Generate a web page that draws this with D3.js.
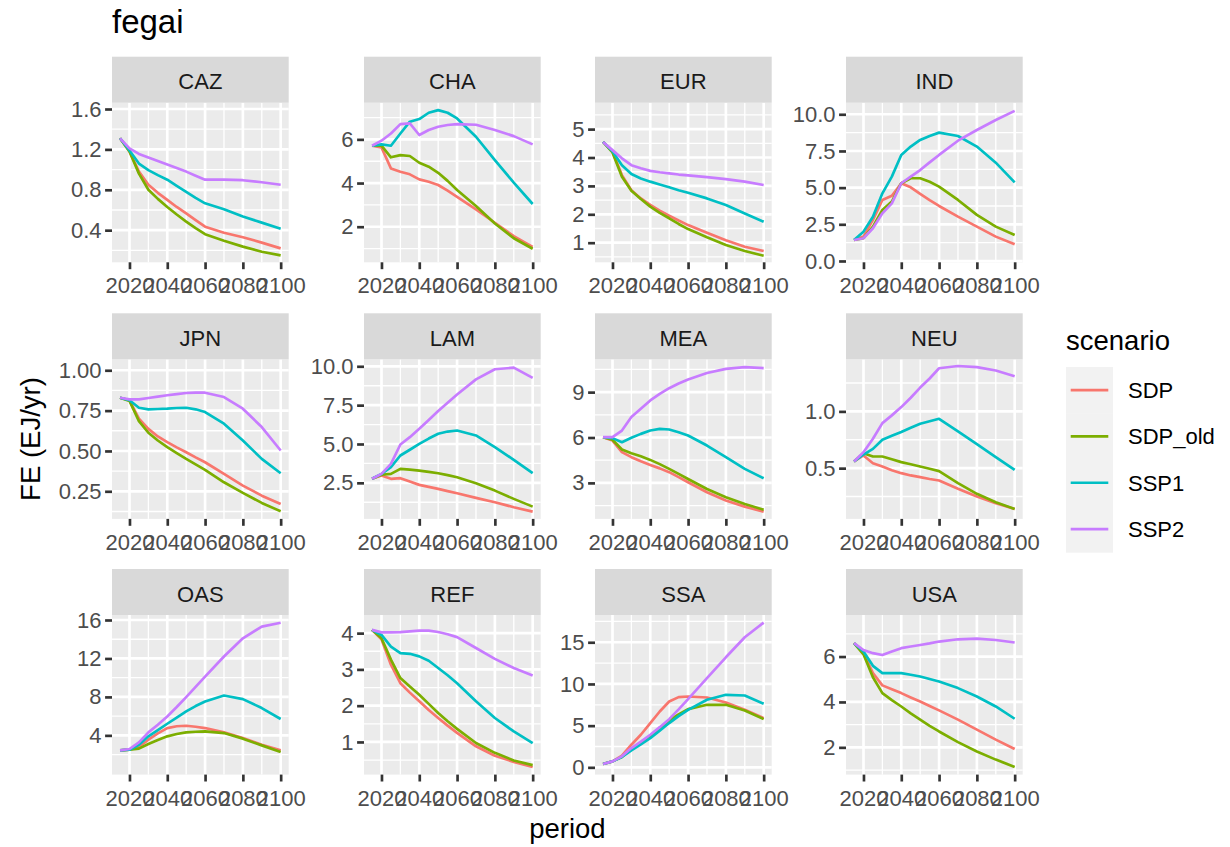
<!DOCTYPE html>
<html>
<head>
<meta charset="utf-8">
<script src="https://cdn.jsdelivr.net/npm/d3@7"></script>
<style>
  body { margin: 0; background: #ffffff; }
  text { font-family: "Liberation Sans", Arial, sans-serif; }
</style>
</head>
<body>
<script>
// ---------------- data ----------------
const years = [2015, 2020, 2025, 2030, 2035, 2040, 2045, 2050, 2055, 2060, 2070, 2080, 2090, 2100];
const regions = ["CAZ", "CHA", "EUR", "IND", "JPN", "LAM", "MEA", "NEU", "OAS", "REF", "SSA", "USA"];
const scenarios = ["SDP", "SDP_old", "SSP1", "SSP2"];
const scenarioColors = ["#F8766D", "#7CAE00", "#00BFC4", "#C77CFF"];
const xTicks = [2020, 2040, 2060, 2080, 2100];

// series per region, order: SDP, SDP_old, SSP1, SSP2
const dataCAZ = [
  [1.31, 1.18, 0.98, 0.85, 0.77, 0.70, 0.63, 0.567, 0.50, 0.435, 0.375, 0.33, 0.277, 0.22],
  [1.31, 1.18, 0.96, 0.80, 0.71, 0.63, 0.555, 0.485, 0.42, 0.36, 0.296, 0.237, 0.187, 0.15],
  [1.31, 1.19, 1.06, 0.995, 0.945, 0.90, 0.84, 0.78, 0.72, 0.666, 0.607, 0.535, 0.475, 0.415],
  [1.31, 1.21, 1.155, 1.12, 1.085, 1.05, 1.015, 0.98, 0.94, 0.90, 0.90, 0.895, 0.875, 0.85]
];
const dataCHA = [
  [5.71, 5.63, 4.67, 4.52, 4.40, 4.17, 4.06, 3.91, 3.65, 3.37, 2.79, 2.18, 1.57, 1.08],
  [5.71, 5.71, 5.18, 5.28, 5.24, 4.93, 4.75, 4.47, 4.10, 3.68, 2.95, 2.15, 1.47, 0.99],
  [5.71, 5.77, 5.71, 6.27, 6.81, 6.93, 7.22, 7.34, 7.22, 6.96, 6.12, 5.05, 4.02, 3.04],
  [5.71, 5.94, 6.27, 6.70, 6.73, 6.20, 6.43, 6.58, 6.66, 6.70, 6.67, 6.43, 6.15, 5.77]
];
const dataEUR = [
  [4.55, 4.20, 3.38, 2.85, 2.56, 2.33, 2.13, 1.95, 1.78, 1.62, 1.35, 1.09, 0.86, 0.71],
  [4.55, 4.18, 3.32, 2.83, 2.54, 2.27, 2.05, 1.86, 1.66, 1.48, 1.19, 0.92, 0.71, 0.54],
  [4.55, 4.22, 3.73, 3.42, 3.26, 3.15, 3.05, 2.95, 2.85, 2.76, 2.56, 2.33, 2.03, 1.74],
  [4.55, 4.26, 3.97, 3.73, 3.62, 3.53, 3.48, 3.44, 3.40, 3.37, 3.31, 3.24, 3.15, 3.03]
];
const dataIND = [
  [1.43, 1.66, 2.80, 4.16, 4.45, 5.30, 5.02, 4.57, 4.15, 3.75, 3.02, 2.34, 1.66, 1.14],
  [1.43, 1.55, 2.34, 3.48, 4.05, 5.30, 5.64, 5.64, 5.40, 5.07, 4.16, 3.14, 2.34, 1.77],
  [1.43, 2.00, 3.02, 4.61, 5.75, 7.23, 7.80, 8.25, 8.52, 8.75, 8.52, 7.80, 6.70, 5.36],
  [1.43, 1.55, 2.23, 3.25, 3.93, 5.30, 5.75, 6.20, 6.72, 7.23, 8.20, 8.93, 9.61, 10.23]
];
const dataJPN = [
  [0.83, 0.814, 0.70, 0.637, 0.59, 0.555, 0.522, 0.492, 0.46, 0.43, 0.358, 0.285, 0.223, 0.171],
  [0.83, 0.81, 0.685, 0.613, 0.565, 0.524, 0.487, 0.451, 0.417, 0.383, 0.306, 0.24, 0.178, 0.126],
  [0.83, 0.814, 0.768, 0.758, 0.76, 0.762, 0.766, 0.768, 0.758, 0.741, 0.669, 0.565, 0.451, 0.362],
  [0.83, 0.82, 0.82, 0.828, 0.837, 0.845, 0.852, 0.859, 0.861, 0.861, 0.834, 0.762, 0.648, 0.503]
];
const dataLAM = [
  [2.76, 2.97, 2.76, 2.80, 2.58, 2.37, 2.24, 2.11, 1.97, 1.83, 1.53, 1.25, 0.93, 0.65],
  [2.76, 3.02, 3.08, 3.40, 3.35, 3.29, 3.21, 3.12, 3.00, 2.86, 2.48, 2.00, 1.47, 0.97],
  [2.76, 3.08, 3.51, 4.26, 4.63, 5.01, 5.35, 5.66, 5.80, 5.87, 5.55, 4.80, 3.98, 3.12],
  [2.76, 3.08, 3.72, 4.97, 5.44, 5.98, 6.55, 7.12, 7.65, 8.19, 9.16, 9.81, 9.91, 9.25]
];
const dataMEA = [
  [6.02, 5.80, 5.03, 4.70, 4.43, 4.19, 3.96, 3.71, 3.38, 3.04, 2.38, 1.83, 1.43, 1.10],
  [6.02, 5.85, 5.21, 4.96, 4.76, 4.52, 4.24, 3.93, 3.60, 3.26, 2.60, 2.05, 1.61, 1.23],
  [6.02, 5.96, 5.69, 5.98, 6.24, 6.46, 6.57, 6.53, 6.35, 6.13, 5.47, 4.70, 3.93, 3.31],
  [6.02, 6.02, 6.46, 7.35, 7.90, 8.45, 8.89, 9.26, 9.57, 9.84, 10.26, 10.54, 10.65, 10.59]
];
const dataNEU = [
  [0.559, 0.612, 0.544, 0.515, 0.482, 0.456, 0.436, 0.421, 0.405, 0.391, 0.318, 0.25, 0.191, 0.141],
  [0.559, 0.632, 0.603, 0.603, 0.578, 0.553, 0.534, 0.515, 0.495, 0.474, 0.368, 0.274, 0.20, 0.141],
  [0.559, 0.62, 0.67, 0.75, 0.785, 0.818, 0.856, 0.891, 0.913, 0.935, 0.824, 0.712, 0.597, 0.485],
  [0.559, 0.641, 0.759, 0.897, 0.965, 1.038, 1.12, 1.21, 1.29, 1.38, 1.40, 1.39, 1.36, 1.31]
];
const dataOAS = [
  [2.44, 2.51, 2.79, 3.55, 4.20, 4.76, 4.95, 5.00, 4.90, 4.76, 4.31, 3.72, 3.03, 2.44],
  [2.44, 2.51, 2.62, 3.10, 3.52, 3.90, 4.14, 4.31, 4.38, 4.42, 4.24, 3.66, 2.96, 2.27],
  [2.44, 2.51, 3.03, 3.90, 4.55, 5.21, 5.85, 6.49, 7.05, 7.53, 8.15, 7.77, 6.84, 5.70],
  [2.44, 2.58, 3.27, 4.31, 5.10, 5.97, 6.95, 7.98, 9.05, 10.12, 12.2, 14.1, 15.31, 15.72]
];
const dataREF = [
  [4.09, 3.83, 3.13, 2.62, 2.36, 2.12, 1.88, 1.66, 1.45, 1.25, 0.88, 0.62, 0.45, 0.31],
  [4.09, 3.86, 3.27, 2.76, 2.53, 2.30, 2.05, 1.80, 1.57, 1.36, 0.97, 0.70, 0.49, 0.36],
  [4.09, 3.95, 3.63, 3.45, 3.43, 3.36, 3.24, 3.04, 2.84, 2.62, 2.12, 1.66, 1.29, 0.97],
  [4.09, 4.02, 4.02, 4.03, 4.05, 4.07, 4.07, 4.03, 3.97, 3.89, 3.59, 3.29, 3.04, 2.83]
];
const dataSSA = [
  [0.40, 0.72, 1.40, 2.71, 3.91, 5.31, 6.70, 7.90, 8.42, 8.50, 8.38, 7.78, 6.90, 5.90],
  [0.40, 0.72, 1.24, 2.19, 2.95, 3.71, 4.65, 5.62, 6.35, 6.98, 7.50, 7.50, 6.82, 5.78],
  [0.40, 0.72, 1.24, 2.03, 2.75, 3.51, 4.40, 5.31, 6.15, 6.90, 8.10, 8.70, 8.62, 7.62],
  [0.40, 0.72, 1.32, 2.31, 3.08, 3.91, 4.82, 5.78, 6.95, 8.18, 10.69, 13.2, 15.6, 17.35]
];
const dataUSA = [
  [6.59, 6.15, 5.27, 4.73, 4.56, 4.39, 4.20, 4.02, 3.82, 3.63, 3.22, 2.78, 2.34, 1.93],
  [6.59, 6.10, 5.09, 4.39, 4.08, 3.80, 3.50, 3.22, 2.95, 2.70, 2.23, 1.82, 1.46, 1.14],
  [6.59, 6.22, 5.59, 5.27, 5.27, 5.27, 5.20, 5.12, 5.01, 4.90, 4.61, 4.24, 3.80, 3.26],
  [6.59, 6.29, 6.15, 6.07, 6.22, 6.37, 6.44, 6.51, 6.58, 6.66, 6.76, 6.79, 6.73, 6.62]
];
const regionData = [dataCAZ, dataCHA, dataEUR, dataIND, dataJPN, dataLAM, dataMEA, dataNEU, dataOAS, dataREF, dataSSA, dataUSA];

// y axis limits (as displayed) and tick labels per panel
const yLimits = [
  [0.082, 1.6625], [0.37, 7.68], [0.31, 5.93], [-0.09, 10.79],
  [0.079, 1.068], [0.18, 10.45], [0.62, 11.17], [0.053, 1.459],
  [-0.08, 16.52], [0.10, 4.50], [-0.87, 18.27], [0.80, 7.83]
];
const yTickLabels = [
  ["0.4", "0.8", "1.2", "1.6"], ["2", "4", "6"], ["1", "2", "3", "4", "5"], ["0.0", "2.5", "5.0", "7.5", "10.0"],
  ["0.25", "0.50", "0.75", "1.00"], ["2.5", "5.0", "7.5", "10.0"], ["3", "6", "9"], ["0.5", "1.0"],
  ["4", "8", "12", "16"], ["1", "2", "3", "4"], ["0", "5", "10", "15"], ["2", "4", "6"]
];

// ---------------- layout ----------------
const W = 1230, H = 847;
const colLeft = [112, 364, 595, 846];
const rowTop = [56.7, 313.3, 569];
const panelW = 176.7, stripH = 46, panelH = 159.6;
const xLimits = [2010.75, 2104.25];
const tickLen = 6.9;
const lw = 2.67;

const svg = d3.select("body").append("svg")
  .attr("width", W).attr("height", H)
  .attr("viewBox", `0 0 ${W} ${H}`);
svg.append("rect").attr("width", W).attr("height", H).attr("fill", "#ffffff");

const line = d3.line();

regions.forEach((reg, i) => {
  const col = i % 4, row = Math.floor(i / 4);
  const left = colLeft[col];
  const top = rowTop[row] + stripH;
  const bottom = top + panelH;
  const x = d3.scaleLinear().domain(xLimits).range([left, left + panelW]);
  const y = d3.scaleLinear().domain(yLimits[i]).range([bottom, top]);
  const yT = yTickLabels[i].map(Number);
  const step = yT[1] - yT[0];
  const yMinor = [yT[0] - step / 2].concat(yT.map(v => v + step / 2))
    .filter(v => v > yLimits[i][0] && v < yLimits[i][1]);
  const xMinor = [2010, 2030, 2050, 2070, 2090].filter(v => v > xLimits[0] && v < xLimits[1]);

  const g = svg.append("g");
  g.append("rect").attr("x", left).attr("y", top).attr("width", panelW).attr("height", panelH).attr("fill", "#EBEBEB");

  // minor grid
  g.selectAll(null).data(yMinor).enter().append("line")
    .attr("x1", left).attr("x2", left + panelW).attr("y1", d => y(d)).attr("y2", d => y(d))
    .attr("stroke", "#ffffff").attr("stroke-width", lw / 2);
  g.selectAll(null).data(xMinor).enter().append("line")
    .attr("y1", top).attr("y2", bottom).attr("x1", d => x(d)).attr("x2", d => x(d))
    .attr("stroke", "#ffffff").attr("stroke-width", lw / 2);
  // major grid
  g.selectAll(null).data(yT).enter().append("line")
    .attr("x1", left).attr("x2", left + panelW).attr("y1", d => y(d)).attr("y2", d => y(d))
    .attr("stroke", "#ffffff").attr("stroke-width", lw);
  g.selectAll(null).data(xTicks).enter().append("line")
    .attr("y1", top).attr("y2", bottom).attr("x1", d => x(d)).attr("x2", d => x(d))
    .attr("stroke", "#ffffff").attr("stroke-width", lw);

  // clip
  const clipId = "clip" + i;
  svg.append("clipPath").attr("id", clipId).append("rect")
    .attr("x", left).attr("y", top).attr("width", panelW).attr("height", panelH);

  const lg = g.append("g").attr("clip-path", `url(#${clipId})`);
  regionData[i].forEach((series, s) => {
    lg.append("path")
      .attr("d", line(series.map((v, k) => [x(years[k]), y(v)])))
      .attr("fill", "none")
      .attr("stroke", scenarioColors[s])
      .attr("stroke-width", lw)
      .attr("stroke-linejoin", "round");
  });

  // strip
  g.append("rect").attr("x", left).attr("y", rowTop[row]).attr("width", panelW).attr("height", stripH).attr("fill", "#D9D9D9");
  g.append("text").attr("x", left + panelW / 2).attr("y", rowTop[row] + 32.5)
    .attr("text-anchor", "middle").attr("font-size", 22).attr("fill", "#1A1A1A").text(reg);

  // axes
  const yAxis = d3.axisLeft(y).tickValues(yT).tickSize(tickLen).tickPadding(3.6)
    .tickFormat((d, k) => yTickLabels[i][k]);
  const ya = g.append("g").attr("transform", `translate(${left},0)`).call(yAxis);
  const xAxis = d3.axisBottom(x).tickValues(xTicks).tickSize(tickLen).tickPadding(8.5).tickFormat(d3.format("d"));
  const xa = g.append("g").attr("transform", `translate(0,${bottom})`).call(xAxis);
  [ya, xa].forEach(a => {
    a.select(".domain").remove();
    a.selectAll(".tick line").attr("stroke", "#333333").attr("stroke-width", lw);
    a.selectAll(".tick text").attr("fill", "#4D4D4D").attr("font-size", 22)
      .attr("font-family", '"Liberation Sans", Arial, sans-serif');
  });
});

// titles
svg.append("text").attr("x", 112).attr("y", 33).attr("font-size", 33).attr("fill", "#000").text("fegai");
svg.append("text").attr("x", 567.4).attr("y", 838).attr("text-anchor", "middle")
  .attr("font-size", 27.5).attr("fill", "#000").text("period");
svg.append("text").attr("transform", "translate(39.5,439) rotate(-90)").attr("text-anchor", "middle")
  .attr("font-size", 27.5).attr("fill", "#000").text("FE (EJ/yr)");

// legend
const legX = 1066, legY = 367, keyW = 47, keyH = 46.3;
svg.append("text").attr("x", legX).attr("y", 350).attr("font-size", 27.5).attr("fill", "#000").text("scenario");
const leg = svg.append("g");
leg.selectAll(null).data(scenarios).enter().append("rect")
  .attr("x", legX).attr("y", (d, k) => legY + k * keyH).attr("width", keyW).attr("height", keyH + 0.5)
  .attr("fill", "#F2F2F2");
leg.selectAll(null).data(scenarios).enter().append("line")
  .attr("x1", legX + keyW * 0.1).attr("x2", legX + keyW * 0.9)
  .attr("y1", (d, k) => legY + k * keyH + keyH / 2).attr("y2", (d, k) => legY + k * keyH + keyH / 2)
  .attr("stroke", (d, k) => scenarioColors[k]).attr("stroke-width", lw);
leg.selectAll(null).data(scenarios).enter().append("text")
  .attr("x", 1128).attr("y", (d, k) => legY + k * keyH + keyH / 2 + 8)
  .attr("font-size", 22).attr("fill", "#000").text(d => d);
</script>
</body>
</html>
